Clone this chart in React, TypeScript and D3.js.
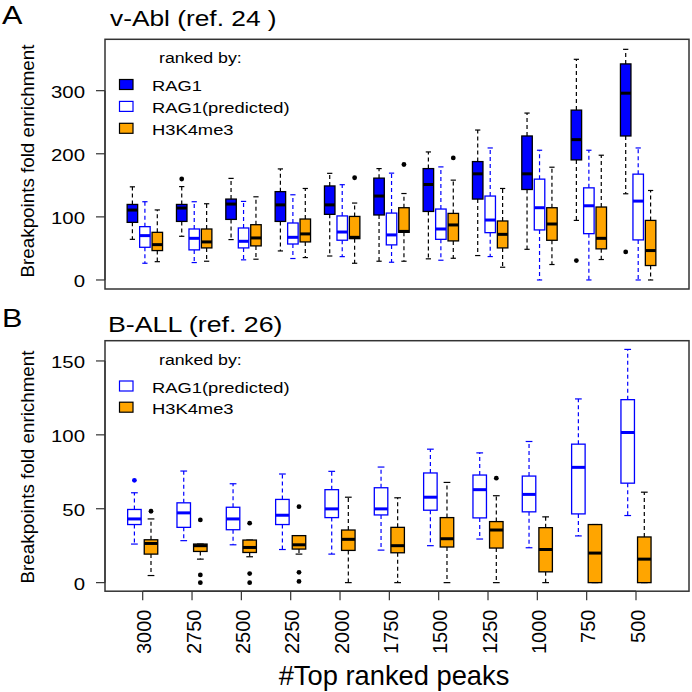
import React from 'react';
import * as d3 from 'd3';

const groups = ['3000', '2750', '2500', '2250', '2000', '1750', '1500', '1250', '1000', '750', '500'];

// [low whisker, Q1, median, Q3, high whisker]
const ablRag1 = [
  [64.4, 91.3, 110.8, 119.7, 147.6],
  [69.2, 92.8, 114, 119.7, 148],
  [64, 96, 120.3, 128.2, 161],
  [46, 92.8, 119, 140, 176],
  [38, 104, 119, 149, 169],
  [29.7, 103, 133, 161.4, 176.5],
  [33.5, 108.6, 151.3, 176.5, 202.9],
  [38.7, 128.2, 168.2, 187.6, 237.6],
  [48.6, 143.4, 168.2, 228.2, 264.5],
  [94.4, 190.3, 222.4, 269.2, 349.7],
  [136.6, 228.2, 296, 342.4, 365.5],
];
const ablRag1Out = [[], [160], [], [], [], [], [], [], [], [30.8], [44.5]];

const ablPred = [
  [26.5, 51.8, 70.3, 84.5, 124],
  [27.6, 47.7, 66, 80.8, 124],
  [31.9, 50.8, 61.3, 82.4, 124.5],
  [34, 57, 67.6, 90.3, 135],
  [37, 63, 76, 101.5, 151],
  [28.1, 55.6, 71.4, 106, 169.3],
  [31.3, 64.4, 80.8, 112.4, 179.2],
  [37.1, 75, 95, 133, 209.2],
  [0, 79.3, 114.5, 159.8, 205.6],
  [0, 73.4, 117.6, 146, 205.6],
  [0, 63.5, 125, 167.7, 209.2],
];
const ablPredOut = [[], [], [], [], [], [], [], [], [], [], []];

const ablH3 = [
  [29, 46.6, 56, 75.5, 111],
  [29.7, 50.8, 60.3, 80.8, 120.8],
  [32.9, 54, 66.6, 87.6, 131.8],
  [35.5, 60.3, 73, 96.6, 145],
  [26.5, 65.5, 67.6, 100.7, 121.9],
  [29.7, 75.5, 77, 114.5, 137],
  [34.4, 61.9, 87.2, 105.5, 158.2],
  [20.2, 50.8, 72.3, 93.5, 145],
  [24.5, 62.9, 88.7, 114.5, 178.7],
  [32.4, 49.3, 66, 115.6, 197.7],
  [0, 22.9, 46.6, 94.4, 141.8],
];
const ablH3Out = [[], [], [], [], [162], [183], [193.4], [], [], [], []];

const ballPred = [
  [26.1, 39.3, 43.1, 49.5, 60.8],
  [28.4, 37.4, 47.2, 54, 75.5],
  [25.6, 35.8, 43.1, 51, 66.9],
  [22.4, 39.3, 45.6, 56.3, 73.5],
  [19.3, 44, 49.9, 62.9, 75.3],
  [22, 45.8, 49.9, 64.2, 78.2],
  [25, 49, 57.8, 74.2, 90.3],
  [29.5, 43.8, 62.9, 72.8, 87.8],
  [23.6, 47.9, 59.7, 72.1, 95.5],
  [31.6, 46.5, 78, 93.7, 124.3],
  [45.4, 67.3, 101.6, 123.8, 157.8],
];
const ballPredOut = [[69.2], [], [], [], [], [], [], [], [], [], []];

const ballH3 = [
  [4.8, 19.3, 26.5, 29, 43.1],
  [15.9, 21.1, 25, 26.1, 26.1],
  [17.5, 20.4, 23.8, 28.8, 28.8],
  [19.3, 22.7, 25.6, 31.8, 31.8],
  [0, 21.8, 29.3, 35.6, 57.8],
  [0, 20.2, 25, 37.4, 57.4],
  [0, 24.1, 29.7, 44, 67.8],
  [0, 23.4, 35.6, 41.3, 58.8],
  [0, 7.3, 22.4, 37.2, 44.5],
  [0, 0, 20, 39.3, 39.3],
  [0, 0, 15.9, 30.9, 61.2],
];
const ballH3Out = [[48.3], [42.4, 5.2, 0], [40.2, 6.1, 0], [51.4, 7, 0.8], [], [], [], [70.7], [], [], []];

const ticksA = [0, 100, 200, 300];
const ticksB = [0, 50, 100, 150];

const FONT = "'Liberation Sans', Arial, sans-serif";
const BLUE = '#0000FF';
const ORANGE = '#FFA500';

const FRAME_L = 105;
const FRAME_R = 689;

const x = d3.scaleLinear().domain([0, groups.length - 1]).range([142.7, 636]);
const yA = d3.scaleLinear().domain([-14.3, 381.4]).range([289, 39.3]);
const yB = d3.scaleLinear().domain([-5.8, 163.7]).range([591.2, 340.7]);

type Style = { fill: string; stroke: string; med: string; whisker: string; dot: string };
const sRag1: Style = { fill: BLUE, stroke: '#000', med: '#000', whisker: '#000', dot: '#000' };
const sPred: Style = { fill: '#fff', stroke: BLUE, med: BLUE, whisker: BLUE, dot: BLUE };
const sH3: Style = { fill: ORANGE, stroke: '#000', med: '#000', whisker: '#000', dot: '#000' };

function T(props: {
  x: number; y: number; size: number; sx?: number; anchor?: string; rotate?: number; children: React.ReactNode;
}) {
  const { x: tx, y: ty, size, sx = 1, anchor = 'start', rotate = 0, children } = props;
  return (
    <g transform={`translate(${tx},${ty}) scale(${sx},1) rotate(${rotate})`}>
      <text x={0} y={0} fontSize={size} fontFamily={FONT} textAnchor={anchor} fill="#000">
        {children}
      </text>
    </g>
  );
}

function Box(props: {
  cx: number; w: number; st: number[]; out: number[]; y: d3.ScaleLinear<number, number>; s: Style;
}) {
  const { cx, w, st, out, y, s } = props;
  const [lo, q1, med, q3, hi] = st;
  const cap = w / 2;
  return (
    <g>
      <line x1={cx} x2={cx} y1={y(q3)} y2={y(hi)} stroke={s.whisker} strokeWidth={1.2} strokeDasharray="4,3" />
      <line x1={cx} x2={cx} y1={y(q1)} y2={y(lo)} stroke={s.whisker} strokeWidth={1.2} strokeDasharray="4,3" />
      <line x1={cx - cap / 2} x2={cx + cap / 2} y1={y(hi)} y2={y(hi)} stroke={s.whisker} strokeWidth={1.2} />
      <line x1={cx - cap / 2} x2={cx + cap / 2} y1={y(lo)} y2={y(lo)} stroke={s.whisker} strokeWidth={1.2} />
      <rect x={cx - w / 2} y={y(q3)} width={w} height={Math.max(0.5, y(q1) - y(q3))} fill={s.fill} stroke={s.stroke} strokeWidth={1.3} />
      <line x1={cx - w / 2} x2={cx + w / 2} y1={y(med)} y2={y(med)} stroke={s.med} strokeWidth={3} />
      {out.map((o, i) => (
        <circle key={i} cx={cx} cy={y(o)} r={2.4} fill={s.dot} />
      ))}
    </g>
  );
}

function YAxis(props: { y: d3.ScaleLinear<number, number>; ticks: number[] }) {
  const { y, ticks } = props;
  return (
    <g>
      <line x1={FRAME_L} x2={FRAME_L} y1={y(ticks[0])} y2={y(ticks[ticks.length - 1])} stroke="#333" strokeWidth={1.2} />
      {ticks.map((t) => (
        <g key={t}>
          <line x1={FRAME_L - 9} x2={FRAME_L} y1={y(t)} y2={y(t)} stroke="#333" strokeWidth={1.2} />
          <T x={85} y={y(t) + 7.5} size={17} sx={1.2} anchor="end">{String(t)}</T>
        </g>
      ))}
    </g>
  );
}

function LegendItem(props: { cy: number; s: Style; label: string }) {
  const { cy, s, label } = props;
  return (
    <g>
      <rect x={119.5} y={cy - 5} width={13.5} height={10} fill={s.fill} stroke={s.stroke === BLUE ? BLUE : '#000'} strokeWidth={1.2} />
      <T x={152} y={cy + 6.8} size={15.3} sx={1.2}>{label}</T>
    </g>
  );
}

export default function App() {
  const yA0 = yA.range();
  const yB0 = yB.range();
  return (
    <svg width={692} height={692} style={{ position: 'absolute', left: 0, top: 0, background: '#fff' }}>
      <rect x={0} y={0} width={692} height={692} fill="#fff" />

      {/* Panel A */}
      <T x={2} y={23.5} size={25.5} sx={1.2}>A</T>
      <T x={110} y={26} size={22.3} sx={1.18}>v-Abl (ref. 24 )</T>
      <T x={34} y={161} size={18.8} anchor="middle" rotate={-90}>Breakpoints fold enrichment</T>
      <rect x={FRAME_L} y={yA0[1]} width={FRAME_R - FRAME_L} height={yA0[0] - yA0[1]} fill="none" stroke="#333" strokeWidth={1.5} />
      <YAxis y={yA} ticks={ticksA} />
      {groups.map((g, i) => (
        <g key={g}>
          <Box cx={x(i) - 10.3} w={10.5} st={ablRag1[i]} out={ablRag1Out[i]} y={yA} s={sRag1} />
          <Box cx={x(i) + 2.2} w={10.5} st={ablPred[i]} out={ablPredOut[i]} y={yA} s={sPred} />
          <Box cx={x(i) + 14.6} w={10.5} st={ablH3[i]} out={ablH3Out[i]} y={yA} s={sH3} />
        </g>
      ))}
      <T x={159} y={62.7} size={15.3} sx={1.16}>ranked by:</T>
      <LegendItem cy={84.5} s={sRag1} label="RAG1" />
      <LegendItem cy={106.4} s={sPred} label="RAG1(predicted)" />
      <LegendItem cy={128.3} s={sH3} label="H3K4me3" />

      {/* Panel B */}
      <T x={2} y={327} size={25.5} sx={1.2}>B</T>
      <T x={108} y={331.5} size={22.5} sx={1.19}>B-ALL (ref. 26)</T>
      <T x={34} y={467} size={18.8} anchor="middle" rotate={-90}>Breakpoints fold enrichment</T>
      <rect x={FRAME_L} y={yB0[1]} width={FRAME_R - FRAME_L} height={yB0[0] - yB0[1]} fill="none" stroke="#333" strokeWidth={1.5} />
      <YAxis y={yB} ticks={ticksB} />
      {groups.map((g, i) => (
        <g key={g}>
          <Box cx={x(i) - 8.3} w={13.5} st={ballPred[i]} out={ballPredOut[i]} y={yB} s={sPred} />
          <Box cx={x(i) + 8.3} w={13.5} st={ballH3[i]} out={ballH3Out[i]} y={yB} s={sH3} />
        </g>
      ))}
      <T x={159} y={365} size={15.3} sx={1.16}>ranked by:</T>
      <LegendItem cy={386} s={sPred} label="RAG1(predicted)" />
      <LegendItem cy={407.2} s={sH3} label="H3K4me3" />

      {/* X axis */}
      <line x1={x(0)} x2={x(groups.length - 1)} y1={yB0[0]} y2={yB0[0]} stroke="#333" strokeWidth={1.2} />
      {groups.map((g, i) => (
        <g key={g}>
          <line x1={x(i)} x2={x(i)} y1={yB0[0]} y2={yB0[0] + 9} stroke="#333" strokeWidth={1.2} />
          <T x={x(i) + 8.5} y={609.5} size={20} anchor="end" rotate={-90}>{g}</T>
        </g>
      ))}
      <T x={394} y={685} size={27.3} anchor="middle">#Top ranked peaks</T>
    </svg>
  );
}
